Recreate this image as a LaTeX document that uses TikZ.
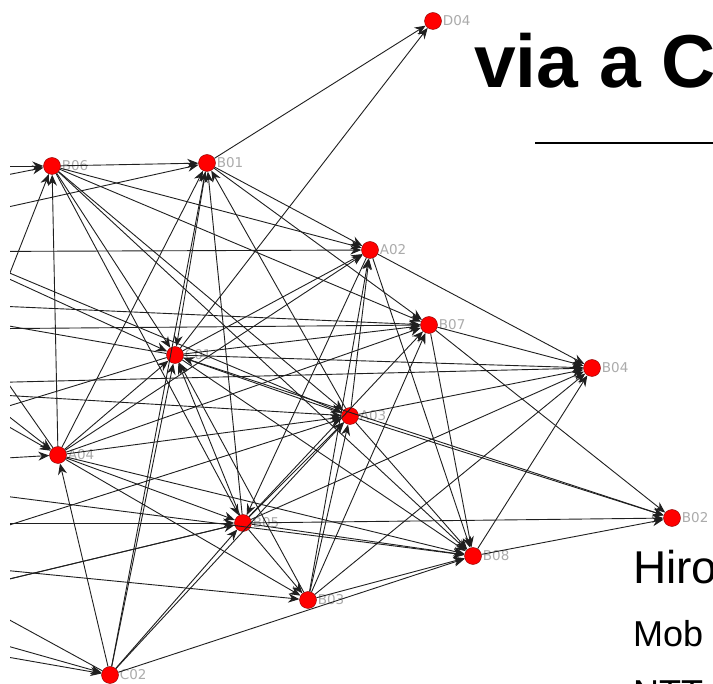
\documentclass[tikz,border=0pt]{standalone}
\usepackage{fontspec}
\setmainfont{Liberation Sans}
\newfontfamily\lblfont{DejaVu Sans}
\usetikzlibrary{arrows.meta}
\begin{document}
\begin{tikzpicture}[x=1pt,y=-1pt,
  vert/.style={circle,fill=red,draw=red!55!black,line width=0.4pt,minimum size=17pt,inner sep=0pt},
  lbl/.style={font=\lblfont\fontsize{13.5}{13.5}\selectfont,text=black!33,inner sep=1pt},
  link/.style={line width=0.9pt,draw=black!88,-{Stealth[length=11pt,width=9pt]}}]
\useasboundingbox (0,0) rectangle (713,684);
\fill[white] (0,0) rectangle (713,684);
\clip (0,0) rectangle (713,684);

% visible vertices
\node[vert,label={[lbl]right:D04}] (D04) at (433,21) {};
\node[vert,label={[lbl]right:B06}] (B06) at (52,166) {};
\node[vert,label={[lbl]right:B01}] (B01) at (207,163) {};
\node[vert,label={[lbl]right:A02}] (A02) at (370,250) {};
\node[vert,label={[lbl]right:B07}] (B07) at (429,325) {};
\node[vert,label={[lbl]right:C01}] (C01) at (175,355) {};
\node[vert,label={[lbl]right:B04}] (B04) at (592,368) {};
\node[vert,label={[lbl]right:A03}] (A03) at (350,416) {};
\node[vert,label={[lbl]right:A04}] (A04) at (58,455) {};
\node[vert,label={[lbl]right:B05}] (B05) at (243,523) {};
\node[vert,label={[lbl]right:B02}] (B02) at (672,518) {};
\node[vert,label={[lbl]right:B08}] (B08) at (473,556) {};
\node[vert,label={[lbl]right:B03}] (B03) at (308,600) {};
\node[vert,label={[lbl]right:C02}] (C02) at (110,675) {};

% vertices lying left of the frame
\coordinate (hA) at (-150,166);
\coordinate (hB) at (-120,200);
\coordinate (hC) at (-200,253);
\coordinate (hD) at (-150,252);
\coordinate (hE) at (-40,400);
\coordinate (hF) at (-150,206);
\coordinate (hG) at (-150,386);
\coordinate (hH) at (-160,330);
\coordinate (hI) at (-150,523);
\coordinate (hJ) at (-120,610);
\coordinate (hK) at (-100,560);
\coordinate (hL) at (-200,470);
\coordinate (hM) at (-90,640);
\coordinate (hN) at (-140,300);

\begin{scope}
\clip (10,0) rectangle (713,684);
% links between visible vertices
\foreach \s/\t in {B01/D04,C01/D04,
  B06/B01,A04/B06,B06/A02,B06/B07,B06/C01,B06/A03,B06/B05,B06/B08,
  B01/A02,B01/B07,B01/C01,C02/B01,A04/B01,B05/B01,A03/B01,
  A02/B04,A02/B08,A02/B05,A03/A02,B03/A02,C01/A02,A04/A02,
  B07/B04,B07/B08,B07/B02,C01/B07,A04/B07,B05/B07,B03/B07,
  C01/B04,A03/B04,B05/B04,B08/B04,B03/B04,
  A03/C01,C01/B02,B05/C01,B03/C01,C02/C01,A04/C01,C01/B08,
  A03/B02,A03/B08,B03/A03,B05/A03,A04/A03,C02/A03,
  A04/B05,A04/B03,C02/A04,A04/B08,
  B05/B02,B05/B03,B05/B08,C02/B05,
  B08/B02,B03/B08,C02/B08}
  \draw[link] (\s) -- (\t);
% links to vertices outside the frame
\foreach \s/\t in {hA/B06,hB/B06,hC/B01,hD/A02,hE/B06,hF/C01,hF/A03,
  hG/B04,hH/B07,hI/B05,hJ/C02,hK/B03,hL/A04,hM/C02,hH/A04,hG/A03,
  hL/B08,hK/A03,hJ/B05,hN/B07,hN/A04}
  \draw[link] (\s) -- (\t);
\foreach \s/\t in {C01/hL,A04/hB,B05/hJ,C02/hK,C01/hN}
  \draw[link] (\s) -- (\t);
\end{scope}

% title and author block
\node[anchor=base west,inner sep=0pt,font=\bfseries\fontsize{75}{75}\selectfont] (title) at (474,88) {via a C};
\coordinate (ruleL) at (535,143);
\coordinate (ruleR) at (713,143);
\draw[line width=2.5pt] (ruleL) -- (ruleR);
\node[anchor=base west,inner sep=0pt,font=\fontsize{46}{46}\selectfont] (author) at (633,584) {Hiro};
\node[anchor=base west,inner sep=0pt,font=\fontsize{36}{36}\selectfont] (affil) at (633,647) {Mob};
\node[anchor=base west,inner sep=0pt,font=\fontsize{36}{36}\selectfont] (org) at (633,706) {NTT};
\end{tikzpicture}
\end{document}
